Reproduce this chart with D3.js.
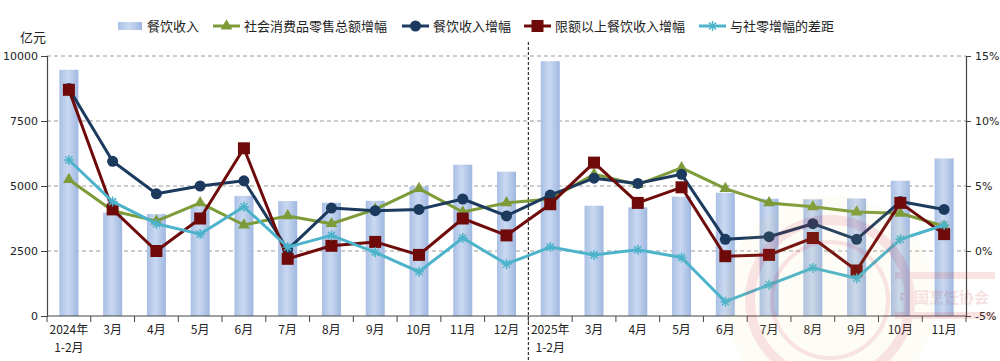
<!DOCTYPE html>
<html><head><meta charset="utf-8">
<script src="https://cdn.jsdelivr.net/npm/d3@7"></script>
<style>
html,body{margin:0;padding:0;background:#fff;}
svg{display:block;}
.cjk{font-family:"Noto Sans CJK SC","Noto Sans",sans-serif;}
.tick text{font-family:"DejaVu Sans",Verdana,sans-serif;font-size:11px;fill:#222;}
</style></head>
<body>
<svg id="chart" width="1000" height="361"></svg>
<script>
// ---------- data ----------
const categories = ["2024年\n1-2月","3月","4月","5月","6月","7月","8月","9月","10月","11月","12月",
                    "2025年\n1-2月","3月","4月","5月","6月","7月","8月","9月","10月","11月"];
const revenue = [9470,3980,3920,4222,4620,4420,4360,4430,4980,5820,5550,
                 9800,4240,4180,4590,4740,4510,4490,4520,5200,6060];
const retailGrowth = [5.5,3.1,2.3,3.7,2.0,2.7,2.1,3.2,4.8,3.0,3.7,
                      4.0,5.9,5.1,6.4,4.8,3.7,3.4,3.0,2.9,1.9];
const cateringGrowth = [12.5,6.9,4.4,5.0,5.4,0.1,3.3,3.1,3.2,4.0,2.7,
                        4.3,5.6,5.2,5.9,0.9,1.1,2.1,0.9,3.8,3.2];
const aboveQuotaGrowth = [12.4,3.2,0.0,2.5,7.9,-0.6,0.4,0.7,-0.3,2.5,1.2,
                          3.6,6.8,3.7,4.9,-0.4,-0.3,1.0,-1.5,3.7,1.3];
const gapToRetail = [7.0,3.8,2.1,1.3,3.4,0.3,1.2,-0.1,-1.6,1.0,-1.0,
                     0.3,-0.3,0.1,-0.5,-3.9,-2.6,-1.3,-2.1,0.9,2.0];
const leftTicks = [0,2500,5000,7500,10000];
const rightTicks = [-5,0,5,10,15];
const legendLabels = ["餐饮收入","社会消费品零售总额增幅","餐饮收入增幅","限额以上餐饮收入增幅","与社零增幅的差距"];

// ---------- layout ----------
const svg = d3.select("#chart");
const L = 47, R = 966, T = 56, B = 316;
const idx = d3.range(categories.length);
const x = d3.scaleBand().domain(idx).range([L, R]).padding(0);
const yL = d3.scaleLinear().domain([0,10000]).range([B, T]);
const yR = d3.scaleLinear().domain([-5,15]).range([B, T]);
const cx = i => x(i) + x.bandwidth()/2;

// gradient for bars
const defs = svg.append("defs");
const g = defs.append("linearGradient").attr("id","barG").attr("x1","0").attr("x2","1").attr("y1","0").attr("y2","0");
g.append("stop").attr("offset","0%").attr("stop-color","#a9bfe4");
g.append("stop").attr("offset","45%").attr("stop-color","#cad9f1");
g.append("stop").attr("offset","100%").attr("stop-color","#9fb7e0");

// gridlines
svg.append("g").selectAll("line").data(leftTicks.filter(d=>d>0)).join("line")
  .attr("x1",L).attr("x2",R).attr("y1",d=>yL(d)).attr("y2",d=>yL(d))
  .attr("stroke","#9a9a9a").attr("stroke-width",1).attr("stroke-dasharray","4,3");

// bars
svg.append("g").selectAll("rect").data(revenue).join("rect")
  .attr("x",(d,i)=>cx(i)-9.5).attr("width",19)
  .attr("y",d=>yL(d)).attr("height",d=>B-yL(d))
  .attr("fill","url(#barG)");

// vertical separator
svg.append("line").attr("x1",x(11)).attr("x2",x(11)).attr("y1",42).attr("y2",361)
  .attr("stroke","#333").attr("stroke-width",1.2).attr("stroke-dasharray","3,2");

// axes
const axL = svg.append("g").attr("transform",`translate(${L},0)`)
  .call(d3.axisLeft(yL).tickValues(leftTicks).tickSize(6).tickPadding(3).tickFormat(d3.format("d")));
const axR = svg.append("g").attr("transform",`translate(${R},0)`)
  .call(d3.axisRight(yR).tickValues(rightTicks).tickSize(5).tickPadding(4).tickFormat(d=>d+"%"));
[axL,axR].forEach(a=>{a.select(".domain").attr("stroke","#444").attr("stroke-width",1.2);a.selectAll(".tick line").attr("stroke","#444");});
// bottom axis line and ticks at band boundaries
svg.append("line").attr("x1",L).attr("x2",R).attr("y1",B).attr("y2",B).attr("stroke","#444").attr("stroke-width",1.2);
svg.append("g").selectAll("line").data(d3.range(categories.length+1)).join("line")
  .attr("x1",k=>L+k*x.bandwidth()).attr("x2",k=>L+k*x.bandwidth())
  .attr("y1",B).attr("y2",B+6).attr("stroke","#444");
// category labels
const cl = svg.append("g").attr("class","cjk").attr("font-size",12).attr("fill","#222");
categories.forEach((c,i)=>{
  c.split("\n").forEach((p,j)=>{
    cl.append("text").attr("x",cx(i)).attr("y",j===0?334:352).attr("text-anchor","middle").text(p);
  });
});
// unit label
svg.append("text").attr("class","cjk").attr("x",20).attr("y",42).attr("font-size",13).attr("fill","#222").text("亿元");

// lines
const series = [
  {data:retailGrowth, color:"#7d9b38", marker:"tri"},
  {data:cateringGrowth, color:"#1b3a5e", marker:"circle"},
  {data:aboveQuotaGrowth, color:"#6e0a0a", marker:"square"},
  {data:gapToRetail, color:"#4cb3cb", marker:"star"}
];
const line = d3.line().x((d,i)=>cx(i)).y(d=>yR(d));
function drawMarker(sel, type, color){
  if(type==="circle") sel.append("circle").attr("r",5.5).attr("fill",color);
  else if(type==="square") sel.append("rect").attr("x",-6).attr("y",-6).attr("width",12).attr("height",12).attr("fill",color);
  else if(type==="tri") sel.append("path").attr("d",d3.symbol(d3.symbolTriangle,60)()).attr("fill",color);
  else if(type==="star") sel.append("path").attr("d","M-5,0H5M0,-5V5M-3.5,-3.5L3.5,3.5M-3.5,3.5L3.5,-3.5").attr("stroke",color).attr("stroke-width",1.5).attr("fill","none");
}
series.forEach(s=>{
  const gg = svg.append("g");
  gg.append("path").datum(s.data).attr("d",line).attr("fill","none").attr("stroke",s.color).attr("stroke-width",3).attr("stroke-linejoin","round");
  s.data.forEach((d,i)=>{
    const m = gg.append("g").attr("transform",`translate(${cx(i)},${yR(d)})`);
    drawMarker(m, s.marker, s.color);
  });
});

// watermark (faint, over the plot)
const wm = svg.append("g").attr("opacity",0.14).attr("pointer-events","none");
wm.append("circle").attr("cx",830).attr("cy",300).attr("r",105).attr("fill","#f5dc7a").attr("opacity",0.45);
wm.append("circle").attr("cx",830).attr("cy",300).attr("r",80).attr("fill","none").attr("stroke","#d23a3a").attr("stroke-width",10);
wm.append("circle").attr("cx",830).attr("cy",300).attr("r",58).attr("fill","none").attr("stroke","#d23a3a").attr("stroke-width",4);
wm.append("rect").attr("x",895).attr("y",272).attr("width",100).attr("height",7).attr("fill","#d23a3a");
wm.append("rect").attr("x",895).attr("y",312).attr("width",100).attr("height",7).attr("fill","#d23a3a");
wm.append("text").attr("class","cjk").attr("x",944).attr("y",303).attr("text-anchor","middle")
  .attr("font-size",15).attr("font-weight","bold").attr("fill","#c03030").text("中国烹饪协会");

// legend
const lg = svg.append("g").attr("class","cjk").attr("font-size",13).attr("fill","#222");
const legendPos = [118,213,402,524,699];
lg.append("rect").attr("x",legendPos[0]).attr("y",22).attr("width",24).attr("height",8).attr("fill","url(#barG)");
lg.append("text").attr("x",legendPos[0]+29).attr("y",31).text(legendLabels[0]);
series.forEach((s,k)=>{
  const x0 = legendPos[k+1];
  const gl = lg.append("g");
  gl.append("line").attr("x1",x0).attr("x2",x0+27).attr("y1",26).attr("y2",26).attr("stroke",s.color).attr("stroke-width",3);
  const m = gl.append("g").attr("transform",`translate(${x0+13.5},26)`);
  drawMarker(m, s.marker, s.color);
  lg.append("text").attr("x",x0+31).attr("y",31).text(legendLabels[k+1]);
});
</script>
</body></html>
